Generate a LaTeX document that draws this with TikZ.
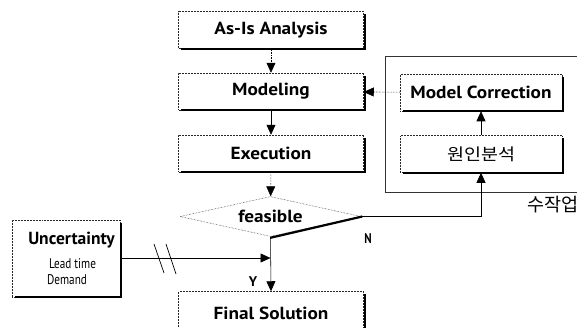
\documentclass[tikz,border=0pt]{standalone}
\usepackage{fontspec}
\setmainfont{PT Sans}
\newfontfamily\kr{Noto Sans CJK KR}
\usetikzlibrary{shapes.geometric,arrows.meta}
\newcommand{\wid}[1]{\scalebox{1.1}[1]{#1}}
\newcommand{\nar}[1]{\scalebox{0.8}[1]{#1}}
\tikzset{
  box/.style={draw=black!85, line width=0.5pt, densely dotted, fill=white, minimum width=185pt, minimum height=37pt, inner sep=0pt,
    font=\fontsize{17.5}{18}\selectfont\bfseries},
  cbox/.style={box, minimum width=162pt},
  arr/.style={line width=0.55pt, -{Triangle[length=10pt,width=9pt]}},
  lbl/.style={font=\fontsize{14}{14}\selectfont\bfseries, inner sep=0pt},
  shadow line/.style={line width=2.2pt, draw=black, solid},
}
\begin{document}
\begin{tikzpicture}[x=1pt,y=-1pt]
\useasboundingbox (0,0) rectangle (577,327);
% main column
\node[box] (asis) at (271,30) {\wid{As-Is Analysis}};
\node[box] (model) at (271,91.5) {\wid{Modeling}};
\node[box] (exec) at (271,153.5) {\wid{Execution}};
\node[diamond, draw=black!85, densely dotted, line width=0.5pt, fill=white, minimum width=181pt, minimum height=40pt, aspect=4.5, inner sep=0pt,
  font=\fontsize{17.5}{18}\selectfont\bfseries] (feas) at (270.5,216.5) {\wid{feasible}};
\node[box, minimum height=44pt] (final) at (271,313.5) {\wid{Final Solution}};
\foreach \n in {asis,model,exec,final}
  \draw[shadow line] (\n.north east) ++(1,3) |- ([xshift=3pt]\n.south west);
\draw[shadow line] ([xshift=1pt]feas.east) -- ([yshift=-1pt]feas.south);
% correction group
\draw[line width=0.5pt, black!80] (614,56) -- (385,56) -- (385,192) -- (614,192);
\node[cbox] (corr) at (481,92.5) {\wid{Model Correction}};
\node[cbox, font=\fontsize{16.5}{18}\kr] (cause) at (481,154) {\scalebox{1.12}[1]{원인분석}};
\foreach \n in {corr,cause}
  \draw[shadow line] (\n.north east) ++(1,3) |- ([xshift=3pt]\n.south west);
\node[anchor=west, inner sep=0pt, font=\fontsize{18.5}{18}\kr] (manual) at (527,205) {수작업};
% uncertainty
\node[draw=black!85, line width=0.5pt, densely dotted, fill=white, minimum width=108pt, minimum height=77pt, inner sep=0pt] (unc) at (66,258.5) {};
\draw[shadow line] (unc.north east) ++(1,3) |- ([xshift=3pt]unc.south west);
\node[font=\fontsize{17.5}{18}\selectfont\bfseries, inner sep=0pt] (unct) at (71.5,240) {Uncertainty};
\node[font=\fontsize{14}{14}\selectfont, inner sep=0pt] (lead) at (72.5,264) {\nar{Lead time}};
\node[font=\fontsize{14}{14}\selectfont, inner sep=0pt] (dem) at (67,280) {\nar{Demand}};
% connectors
\draw[arr, densely dotted] (asis) -- (model);
\draw[arr] (model) -- (exec);
\draw[arr, densely dotted] (exec) -- (feas);
\draw[arr] (feas.south) -- (final.north);
\draw[arr] (cause) -- (corr);
\draw[arr, densely dotted] (corr) -- (model);
\coordinate (turn) at (cause.south |- feas.east);
\draw[arr] (feas.east) -- (turn) -- (cause.south);
\coordinate (join) at (feas.south |- 0,258);
\draw[arr] (unc.east |- join) -- (join);
\draw[line width=0.7pt] (154,244) -- (164,273) (166,244) -- (176,274);
\node[lbl] (N) at (368,239) {\nar{N}};
\node[lbl] (Y) at (253,282) {Y};
\end{tikzpicture}
\end{document}
